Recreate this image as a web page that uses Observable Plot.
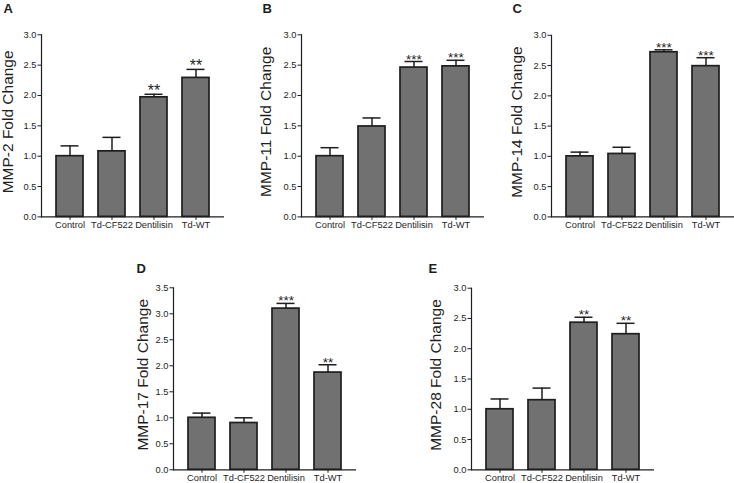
<!DOCTYPE html>
<html>
<head>
<meta charset="utf-8">
<script src="https://cdn.jsdelivr.net/npm/d3@7"></script>
<script src="https://cdn.jsdelivr.net/npm/@observablehq/plot@0.6"></script>
<style>
  html, body { margin: 0; padding: 0; background: #fff; }
  #fig { position: relative; width: 734px; height: 483px; overflow: hidden; background: #fff;
         font-family: "Liberation Sans", Arial, Helvetica, sans-serif; }
  #fig > div { position: absolute; }
  #fig svg { overflow: visible; background: transparent; }
</style>
</head>
<body>
<div id="fig"></div>
<script>
// ---- data ----
const categories = ["Control", "Td-CF522", "Dentilisin", "Td-WT"];
const panelLetters = ["A", "B", "C", "D", "E"];
const yLabels = ["MMP-2 Fold Change", "MMP-11 Fold Change", "MMP-14 Fold Change", "MMP-17 Fold Change", "MMP-28 Fold Change"];
const meansA = [1.00, 1.08, 1.97, 2.29];
const semsA  = [0.17, 0.23, 0.05, 0.14];
const meansB = [1.00, 1.49, 2.46, 2.48];
const semsB  = [0.14, 0.14, 0.10, 0.10];
const meansC = [1.00, 1.04, 2.72, 2.49];
const semsC  = [0.07, 0.11, 0.04, 0.14];
const meansD = [1.00, 0.90, 3.10, 1.87];
const semsD  = [0.09, 0.10, 0.10, 0.15];
const meansE = [1.00, 1.15, 2.43, 2.24];
const semsE  = [0.17, 0.20, 0.09, 0.18];
const starsA = ["", "", "**", "**"];
const starsB = ["", "", "***", "***"];
const starsC = ["", "", "***", "***"];
const starsD = ["", "", "***", "**"];
const starsE = ["", "", "**", "**"];
const yTicks30 = [0, 0.5, 1.0, 1.5, 2.0, 2.5, 3.0];
const yTicks35 = [0, 0.5, 1.0, 1.5, 2.0, 2.5, 3.0, 3.5];

// ---- layout (presentation only) ----
const layout = [
  {left: 0,   top: 0,   mt: 34.3, mb: 22.3, h: 238.7, yMax: 3.0, ticks: yTicks30, lx: -38, ly: -31, labDx: -33, starSize: 16},
  {left: 260, top: 0,   mt: 34.3, mb: 22.3, h: 238.7, yMax: 3.0, ticks: yTicks30, lx: -39, ly: -31, labDx: -35, starSize: 13.5},
  {left: 510, top: 0,   mt: 34.8, mb: 22.3, h: 238.7, yMax: 3.0, ticks: yTicks30, lx: -39, ly: -31.5, labDx: -34, starSize: 13.5},
  {left: 132, top: 253, mt: 34.3, mb: 13.7, h: 230,   yMax: 3.5, ticks: yTicks35, lx: -37, ly: -24, labDx: -30, starSize: 13.5},
  {left: 430, top: 253, mt: 34.7, mb: 13.7, h: 230,   yMax: 3.0, ticks: yTicks30, lx: -43, ly: -24.5, labDx: -35, starSize: 13.5}
];
const allMeans = [meansA, meansB, meansC, meansD, meansE];
const allSems = [semsA, semsB, semsC, semsD, semsE];
const allStars = [starsA, starsB, starsC, starsD, starsE];

const fig = document.getElementById("fig");
const fmt = d3.format(".1f");
const ink = "#1e1e1e";

layout.forEach((L, i) => {
  const data = categories.map((c, j) => ({cat: c, mean: allMeans[i][j], sem: allSems[i][j], star: allStars[i][j]}));
  const chart = Plot.plot({
    width: 224,
    height: L.h,
    marginLeft: 41,
    marginRight: 0,
    marginTop: L.mt,
    marginBottom: L.mb,
    style: {fontFamily: '"Liberation Sans", Arial, sans-serif', color: ink, background: "transparent"},
    x: {domain: categories, paddingInner: 0.36, paddingOuter: 0.35},
    y: {domain: [0, L.yMax]},
    marks: [
      Plot.ruleX(data, {x: "cat", y1: "mean", y2: d => d.mean + d.sem, stroke: ink, strokeWidth: 1.5}),
      Plot.tickY(data, {x: "cat", y: d => d.mean + d.sem, stroke: ink, strokeWidth: 1.5, insetLeft: 4.5, insetRight: 4.5}),
      Plot.barY(data, {x: "cat", y: "mean", fill: "#717171", stroke: ink, strokeWidth: 1.7}),
      Plot.text(data, {x: "cat", y: d => d.mean + d.sem, text: "star", lineAnchor: "bottom", dy: 2, fontSize: L.starSize, fill: ink}),
      Plot.ruleY([0], {stroke: ink, strokeWidth: 1.2}),
      Plot.frame({anchor: "left", stroke: ink, strokeWidth: 1.2}),
      Plot.axisX({tickSize: 3.5, tickPadding: 1.5, fontSize: 9.3, label: null}),
      Plot.axisY({ticks: L.ticks, tickFormat: fmt, tickSize: 3.5, tickPadding: 1.5, fontSize: 9.3, label: null}),
      Plot.text([yLabels[i]], {text: d => d, frameAnchor: "left", textAnchor: "middle", lineAnchor: "middle", rotate: -90, dx: L.labDx, dy: -4, fontSize: 15.5, fill: ink}),
      Plot.text([panelLetters[i]], {text: d => d, frameAnchor: "top-left", textAnchor: "start", lineAnchor: "top", dx: L.lx, dy: L.ly, fontSize: 13, fontWeight: "bold", fill: ink})
    ]
  });
  const wrap = document.createElement("div");
  wrap.style.left = L.left + "px";
  wrap.style.top = L.top + "px";
  wrap.appendChild(chart);
  fig.appendChild(wrap);
});
</script>
</body>
</html>
